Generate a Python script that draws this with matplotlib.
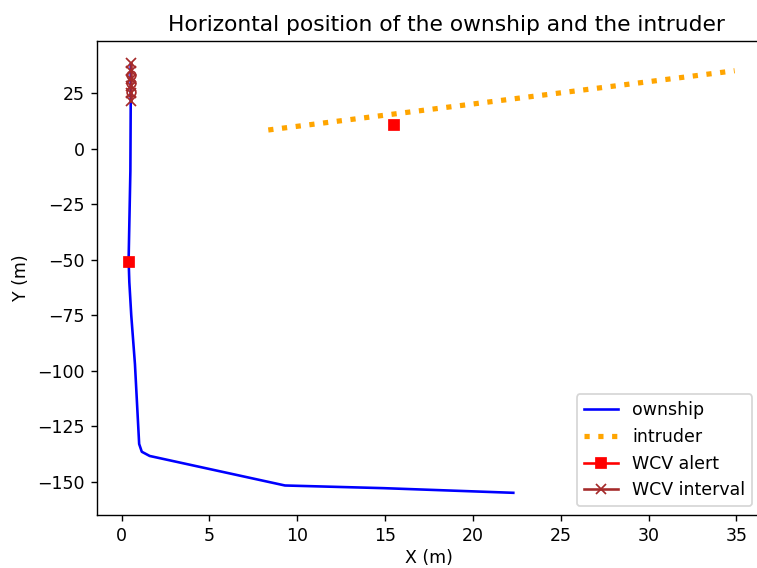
import matplotlib.pyplot as plt

# ownship track (m)
own_x = [0.52, 0.52, 0.50, 0.45, 0.40, 0.44, 0.55, 0.76, 1.00, 1.15, 1.60, 9.30, 14.9, 22.3]
own_y = [38.0, 21.0, -10.0, -30.0, -50.0, -60.0, -75.0, -97.0, -133.0, -136.5, -138.4, -151.7, -152.9, -155.0]

# intruder track (m)
intr_x = [8.35, 34.9]
intr_y = [8.5, 35.2]

# WCV alert positions
alert_own = (0.40, -50.8)
alert_intr = (15.5, 10.7)

# WCV interval on the ownship track
wcv_x = [0.55, 0.55, 0.55, 0.55, 0.55, 0.55]
wcv_y = [38.5, 35.0, 31.5, 28.5, 25.0, 21.5]
wcv_o_y = [33.5, 29.5, 25.5]


def plot_positions():
    # the reference looks like a scaled-up default figure, so use a higher dpi
    dpi = 125
    fig = plt.figure(figsize=(757 / dpi, 568 / dpi), dpi=dpi)
    ax = fig.add_axes([97 / 757, 53 / 568, 664 / 757, 474 / 568])

    ax.plot(own_x, own_y, color="blue", label="ownship")
    ax.plot(intr_x, intr_y, color="orange", linestyle=":", linewidth=3, label="intruder")
    ax.plot([alert_own[0]], [alert_own[1]], color="red", marker="s", label="WCV alert")
    ax.plot([alert_intr[0]], [alert_intr[1]], color="red", marker="s")
    ax.plot(wcv_x, wcv_y, color="brown", marker="x", label="WCV interval")
    ax.plot(wcv_x[:3], wcv_o_y, color="brown", marker="o", fillstyle="none",
            linestyle="none", markersize=5)

    ax.set_xlim(-1.4, 36.4)
    ax.set_ylim(-165.0, 48.6)
    ax.set_xticks([0, 5, 10, 15, 20, 25, 30, 35])
    ax.set_yticks([25, 0, -25, -50, -75, -100, -125, -150])

    ax.set_xlabel("X (m)", labelpad=2)
    ax.set_ylabel("Y (m)")
    # title sits a bit right of the visible axes centre in the reference
    ax.set_title("Horizontal position of the ownship and the intruder", fontsize=12.5, x=0.526)
    ax.legend(loc="lower right")

    fig.savefig("out.png", dpi=dpi)


if __name__ == "__main__":
    plot_positions()
